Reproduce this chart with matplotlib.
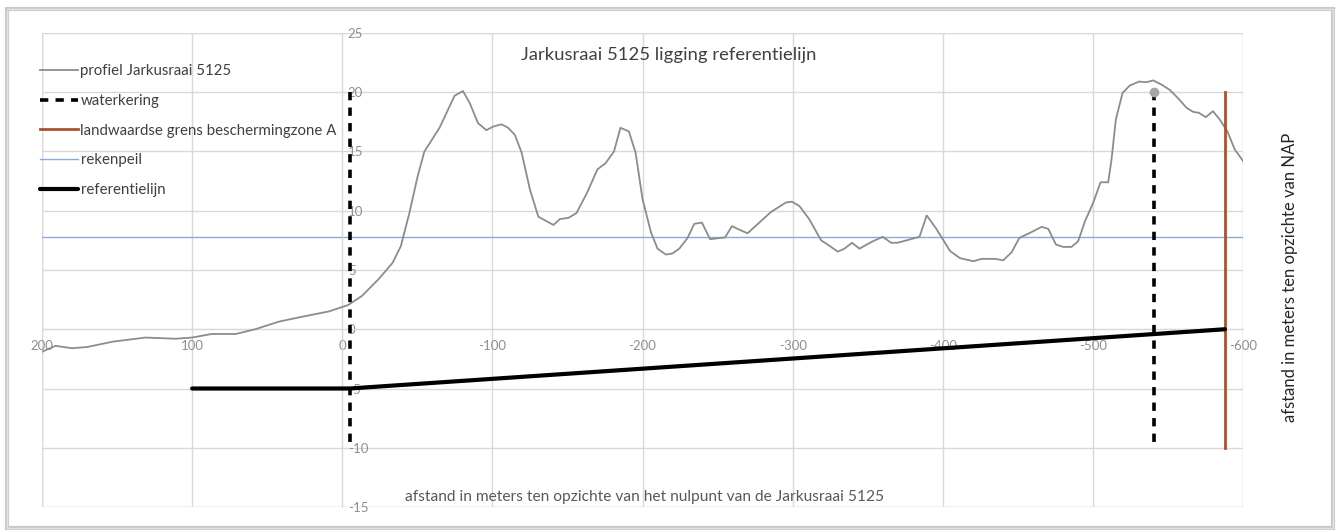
import matplotlib
matplotlib.use("Agg")
import matplotlib.pyplot as plt
from matplotlib.patches import Rectangle

plt.rcParams['font.family'] = ['Lato', 'DejaVu Sans']

# ---------------- data ----------------
profile_x = [200, 191, 180, 170, 153, 131, 111, 100, 87, 71, 58, 42, 25, 9, -4, -13, -24,
             -33.5, -39, -44.7, -50.2, -54.7, -64.8, -74.8, -80.4, -84.9, -90.4, -96, -100.5,
             -106, -110.5, -115, -119.5, -125, -130.6, -140.7, -145, -150.7, -156, -163, -170,
             -175.3, -181, -185.3, -190.9, -195.4, -200, -205.6, -210, -215.6, -220, -224.5,
             -230, -234.5, -239.6, -245, -255, -259.6, -264.5, -270, -277.8, -285.6, -295.6,
             -299.6, -304.5, -311, -319, -324.5, -330, -334.5, -339.6, -344.5, -353, -360,
             -365.6, -370, -384.5, -389.3, -395.6, -404.9, -411.5, -420.4, -426, -434.8,
             -440.3, -445.9, -451, -458, -465.9, -470.3, -475.4, -480.2, -485.8, -490.2,
             -494.7, -500.2, -505.1, -510.2, -512.4, -515.3, -519.8, -524.6, -530.8, -535.7,
             -540.1, -545.7, -551.2, -556.7, -562.3, -566.7, -570.7, -575.2, -580, -584.5,
             -589.6, -594.4, -600]
profile_y = [-1.9, -1.4, -1.6, -1.5, -1.05, -0.7, -0.8, -0.7, -0.4, -0.4, 0.0, 0.65, 1.1, 1.5,
             2.05, 2.8, 4.2, 5.6, 7.0, 9.8, 12.9, 15.0, 17.0, 19.7, 20.1, 19.1, 17.4, 16.8,
             17.1, 17.3, 17.0, 16.4, 14.9, 11.8, 9.5, 8.8, 9.3, 9.4, 9.8, 11.5, 13.5, 14.0,
             15.0, 17.0, 16.7, 14.9, 11.0, 8.2, 6.8, 6.3, 6.4, 6.8, 7.7, 8.9, 9.0, 7.6, 7.75,
             8.7, 8.4, 8.1, 9.0, 9.9, 10.7, 10.76, 10.4, 9.3, 7.5, 7.05, 6.55, 6.8, 7.3, 6.8,
             7.4, 7.8, 7.3, 7.3, 7.8, 9.6, 8.5, 6.6, 6.0, 5.74, 5.94, 5.94, 5.82, 6.5, 7.7,
             8.13, 8.64, 8.47, 7.15, 6.95, 6.95, 7.43, 9.1, 10.67, 12.4, 12.4, 14.3, 17.7,
             19.95, 20.57, 20.9, 20.85, 21.0, 20.65, 20.2, 19.5, 18.7, 18.35, 18.26, 17.9,
             18.4, 17.7, 16.7, 15.2, 14.2]

waterkering1_x = [-5, -5]
waterkering2_x = [-541, -541]
waterkering_y = [20, -10]

grens_x = [-588, -588]
grens_y = [20, -10]

rekenpeil_x = [200, -600]
rekenpeil_y = [7.8, 7.8]

referentie_x = [100, -5, -588]
referentie_y = [-5, -5, 0]

x_ticks = [200, 100, 0, -100, -200, -300, -400, -500, -600]
y_ticks = [-15, -10, -5, 0, 5, 10, 15, 20, 25]

title = "Jarkusraai 5125 ligging referentielijn"
xlabel = "afstand in meters ten opzichte van het nulpunt van de Jarkusraai 5125"
ylabel = "afstand in meters ten opzichte van NAP"

# ---------------- figure ----------------
fig = plt.figure(figsize=(13.39, 5.30), dpi=100)
fig.patch.set_facecolor('white')

# outer frame with a soft shadow
fig.add_artist(Rectangle((7 / 1339, 2 / 530), 1326 / 1339, 519 / 530, transform=fig.transFigure,
                         fill=False, edgecolor='#c8c8c8', lw=3.0, zorder=0))
fig.add_artist(Rectangle((7 / 1339, 2 / 530), 1326 / 1339, 519 / 530, transform=fig.transFigure,
                         fill=False, edgecolor='#e2e2e2', lw=1.0, zorder=0))

ax = fig.add_axes([42 / 1339, 23 / 530, 1201 / 1339, 474 / 530])
ax.set_xlim(200, -600)
ax.set_ylim(-15, 25)
ax.set_xticks(x_ticks)
ax.set_yticks(y_ticks)
ax.set_xticklabels([str(v) for v in x_ticks])
ax.set_yticklabels([str(v) for v in y_ticks])

grid_c = '#d9d9d9'
ax.grid(True, color=grid_c, lw=1.0, zorder=0)
ax.set_axisbelow(True)
for s in ['top', 'left']:
    ax.spines[s].set_visible(False)
ax.spines['right'].set_position(('data', 0))
ax.spines['right'].set_color(grid_c)
ax.spines['bottom'].set_position(('data', 0))
ax.spines['bottom'].set_color(grid_c)
ax.yaxis.tick_right()
ax.tick_params(axis='y', length=0, pad=4, labelsize=9.5, labelcolor='#8f8f8f')
ax.tick_params(axis='x', length=0, pad=8, labelsize=9.5, labelcolor='#8f8f8f')
# border gridlines of the plot area
ax.axhline(25, color=grid_c, lw=1.0, zorder=0)
ax.axhline(-15, color=grid_c, lw=1.0, zorder=0)
ax.axvline(200, color=grid_c, lw=1.0, zorder=0)
ax.axvline(-600, color=grid_c, lw=1.0, zorder=0)

ax.plot(profile_x, profile_y, color='#8c8c8c', lw=1.3, label='profiel Jarkusraai 5125', zorder=3)
ax.plot(waterkering1_x, waterkering_y, color='black', lw=2.6, dashes=(2.3, 2.0),
        label='waterkering', zorder=4)
ax.plot(waterkering2_x, waterkering_y, color='black', lw=2.6, dashes=(2.3, 2.0), zorder=4)
ax.plot(waterkering2_x[:1], waterkering_y[:1], 'o', color='#a6a6a6', ms=6, zorder=5)
ax.plot(grens_x, grens_y, color='#a9532f', lw=2.0,
        label='landwaardse grens beschermingzone A', zorder=4)
ax.plot(rekenpeil_x, rekenpeil_y, color='#8eaadb', lw=1.0, label='rekenpeil', zorder=2)
ax.plot(referentie_x, referentie_y, color='black', lw=3.0, label='referentielijn', zorder=4,
        solid_capstyle='round')

leg = ax.legend(loc='upper left', bbox_to_anchor=(40 / 1339, 1 - 64 / 530),
                bbox_transform=fig.transFigure, frameon=False, fontsize=10.8,
                handlelength=2.5, handletextpad=0.2, labelspacing=1.05, borderpad=0,
                borderaxespad=0)
for t in leg.get_texts():
    t.set_color('#404040')

fig.text(669 / 1339, 1 - 55 / 530, title, ha='center', va='center', fontsize=13.3,
         color='#404040')
fig.text(645 / 1339, 1 - 497 / 530, xlabel, ha='center', va='center', fontsize=11.2,
         color='#595959')
fig.text(1290 / 1339, 1 - 277 / 530, ylabel, ha='center', va='center', fontsize=12,
         rotation=90, color='#262626')

fig.savefig('out.png', dpi=100, facecolor='white')
